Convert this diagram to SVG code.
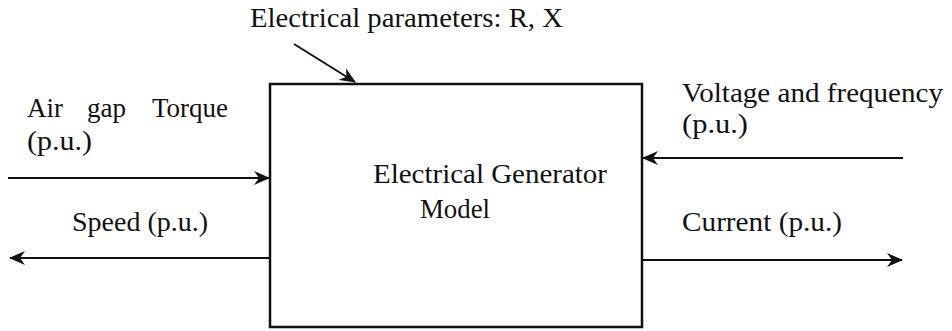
<svg xmlns="http://www.w3.org/2000/svg" width="952" height="331" viewBox="0 0 952 331">
<style>
text{font-family:"Liberation Serif","Times New Roman",serif;font-size:27px;fill:#111}
.ln{stroke:#111;stroke-width:2;fill:none}
</style>
<defs>
<marker id="ah" markerWidth="16" markerHeight="14" refX="15" refY="7" orient="auto" markerUnits="userSpaceOnUse">
<path d="M0,0 L16,7 L0,14 L5,7 Z" fill="#111"/>
</marker>
</defs>
<rect width="952" height="331" fill="#fff"/>
<g id="generator">
<rect x="270" y="84" width="372" height="243" fill="#fff" stroke="#111" stroke-width="2.5"/>
<text x="373" y="183" textLength="234" lengthAdjust="spacingAndGlyphs">Electrical Generator</text>
<text x="420" y="218" textLength="70" lengthAdjust="spacingAndGlyphs">Model</text>
</g>
<g id="params-label"><text x="250" y="27" textLength="313" lengthAdjust="spacingAndGlyphs">Electrical parameters: R, X</text></g>
<g id="torque-label"><text y="117"><tspan x="27">Air</tspan> <tspan x="87">gap</tspan> <tspan x="152">Torque</tspan></text><text x="27" y="150" textLength="65" lengthAdjust="spacingAndGlyphs">(p.u.)</text></g>
<g id="speed-label"><text x="72" y="231" textLength="136" lengthAdjust="spacingAndGlyphs">Speed (p.u.)</text></g>
<g id="voltage-label"><text x="682" y="102" textLength="261" lengthAdjust="spacingAndGlyphs">Voltage and frequency</text><text x="682" y="133" textLength="66" lengthAdjust="spacingAndGlyphs">(p.u.)</text></g>
<g id="current-label"><text x="682" y="231" textLength="160" lengthAdjust="spacingAndGlyphs">Current (p.u.)</text></g>
<g id="connectors">
<line class="ln" x1="294" y1="44" x2="355" y2="82" marker-end="url(#ah)"/>
<line class="ln" x1="8" y1="178" x2="269" y2="178" marker-end="url(#ah)"/>
<line class="ln" x1="270" y1="258" x2="10" y2="258" marker-end="url(#ah)"/>
<line class="ln" x1="903" y1="158" x2="643" y2="158" marker-end="url(#ah)"/>
<line class="ln" x1="642" y1="260" x2="902" y2="260" marker-end="url(#ah)"/>
</g>
</svg>
